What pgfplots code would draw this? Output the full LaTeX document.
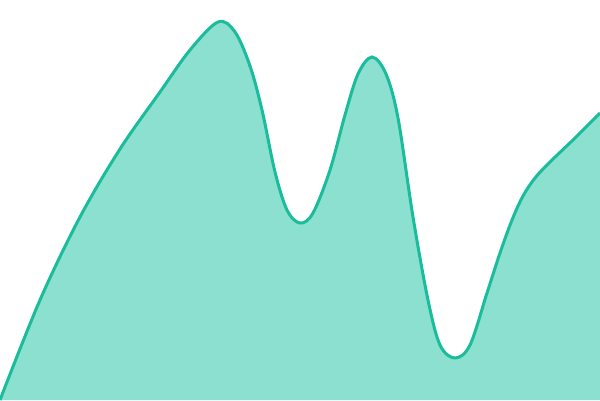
\documentclass[border=0pt]{standalone}
\usepackage{pgfplots}
\pgfplotsset{compat=1.18}
\definecolor{linec}{HTML}{1ABC9C}
\definecolor{fillc}{HTML}{8BE0CF}
\pgfplotstableread{
x y
0 0
40 100
80 183
120 251
160 308
190 350
218 378
235 368
250 334
262 290
275 228
287 190
300 177
313 187
330 230
345 285
358 326
372 343
386 326
398 282
413 183
428 100
440 55
455 42
470 55
487 107
500 147
512 180
523 204
535 222
550 238
575 262
600 287
}\curvedata
\begin{document}
\begin{tikzpicture}
\begin{axis}[width=600pt,height=400pt,scale only axis,
  axis line style={draw=none},ticks=none,
  xmin=0,xmax=600,ymin=0,ymax=400,clip=true]
\addplot[fill=fillc,draw=none,smooth,tension=0.55] table {\curvedata} \closedcycle;
\addplot[linec,line width=3pt,smooth,tension=0.55] table {\curvedata};
\end{axis}
\end{tikzpicture}
\end{document}
